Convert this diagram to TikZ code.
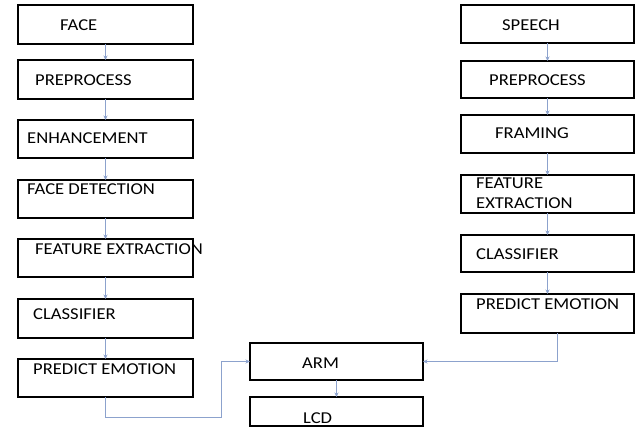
\documentclass[tikz,border=0pt]{standalone}
\usepackage{fontspec}
\setmainfont{Carlito}
\newfontfamily\boxfont[FakeStretch=1.12]{Carlito}
\usetikzlibrary{arrows.meta}
\definecolor{linkblue}{RGB}{140,162,205}
\begin{document}
\begin{tikzpicture}[x=1pt,y=-1pt,
  stagebox/.style={draw=black,line width=1.6pt,fill=white,anchor=north west,
    inner sep=0pt,outer sep=0pt,minimum width=#1},
  stagebox/.default=175pt,
  lbl/.style={anchor=west,inner sep=0pt,font=\boxfont\fontsize{16.6}{19}\selectfont},
  conn/.style={draw=linkblue,line width=0.8pt,-{Stealth[length=4.5pt,width=4pt]}}]
\useasboundingbox (0,0) rectangle (636,437);

% face branch
\node[stagebox,minimum height=39pt] (face) at (18,5) {};
\node[stagebox,minimum height=39pt] (fpre) at (18,60) {};
\node[stagebox,minimum height=38pt] (fenh) at (18,120) {};
\node[stagebox,minimum height=38pt] (fdet) at (18,180) {};
\node[stagebox,minimum height=38pt] (ffeat) at (18,239) {};
\node[stagebox,minimum height=39pt] (fcls) at (18,299) {};
\node[stagebox,minimum height=38pt] (fpred) at (18,359) {};

% speech branch
\node[stagebox=173pt,minimum height=38pt] (speech) at (461,5) {};
\node[stagebox=173pt,minimum height=37pt] (spre) at (461,61) {};
\node[stagebox=173pt,minimum height=38pt] (sfrm) at (461,115) {};
\node[stagebox=173pt,minimum height=38pt] (sfeat) at (461,175) {};
\node[stagebox=173pt,minimum height=37pt] (scls) at (461,235) {};
\node[stagebox=173pt,minimum height=39pt] (spred) at (461,294) {};

% output stage
\node[stagebox=173pt,minimum height=37pt] (arm) at (250,343) {};
\node[stagebox=173pt,minimum height=29pt] (lcd) at (250,397) {};

% labels
\node[lbl] (tface) at (60,25) {FACE};
\node[lbl] (tfpre) at (35,80) {PREPROCESS};
\node[lbl] (tfenh) at (27,138) {ENHANCEMENT};
\node[lbl] (tfdet) at (27,189) {FACE DETECTION};
\node[lbl] (tffeat) at (35,249) {FEATURE EXTRACTION};
\node[lbl] (tfcls) at (33,314) {CLASSIFIER};
\node[lbl] (tfpred) at (33,369) {PREDICT EMOTION};

\node[lbl] (tspeech) at (502,25) {SPEECH};
\node[lbl] (tspre) at (489,80) {PREPROCESS};
\node[lbl] (tsfrm) at (495,133) {FRAMING};
\node[lbl,align=left,font=\boxfont\fontsize{16.6}{20}\selectfont] (tsfeat) at (476,193) {FEATURE\\EXTRACTION};
\node[lbl] (tscls) at (476,254) {CLASSIFIER};
\node[lbl] (tspred) at (476,304) {PREDICT EMOTION};

\node[lbl] (tarm) at (302,363) {ARM};
\node[lbl] (tlcd) at (303,418) {LCD};

% column connectors
\draw[conn] (face.south) -- (fpre.north);
\draw[conn] (fpre.south) -- (fenh.north);
\draw[conn] (fenh.south) -- (fdet.north);
\draw[conn] (fdet.south) -- (ffeat.north);
\draw[conn] (ffeat.south) -- (fcls.north);
\draw[conn] (fcls.south) -- (fpred.north);

\draw[conn] (speech.south) -- (spre.north);
\draw[conn] (spre.south) -- (sfrm.north);
\draw[conn] (sfrm.south) -- (sfeat.north);
\draw[conn] (sfeat.south) -- (scls.north);
\draw[conn] (scls.south) -- (spred.north);

\draw[conn] (arm.south) -- (lcd.north);

% branch outputs into the controller
\coordinate (lbend) at (221,417);
\coordinate (rdrop) at (557,0);
\draw[conn] (fpred.south) |- (lbend) |- (arm.west);
\draw[conn] (spred.south -| rdrop) |- (arm.east);
\end{tikzpicture}
\end{document}
